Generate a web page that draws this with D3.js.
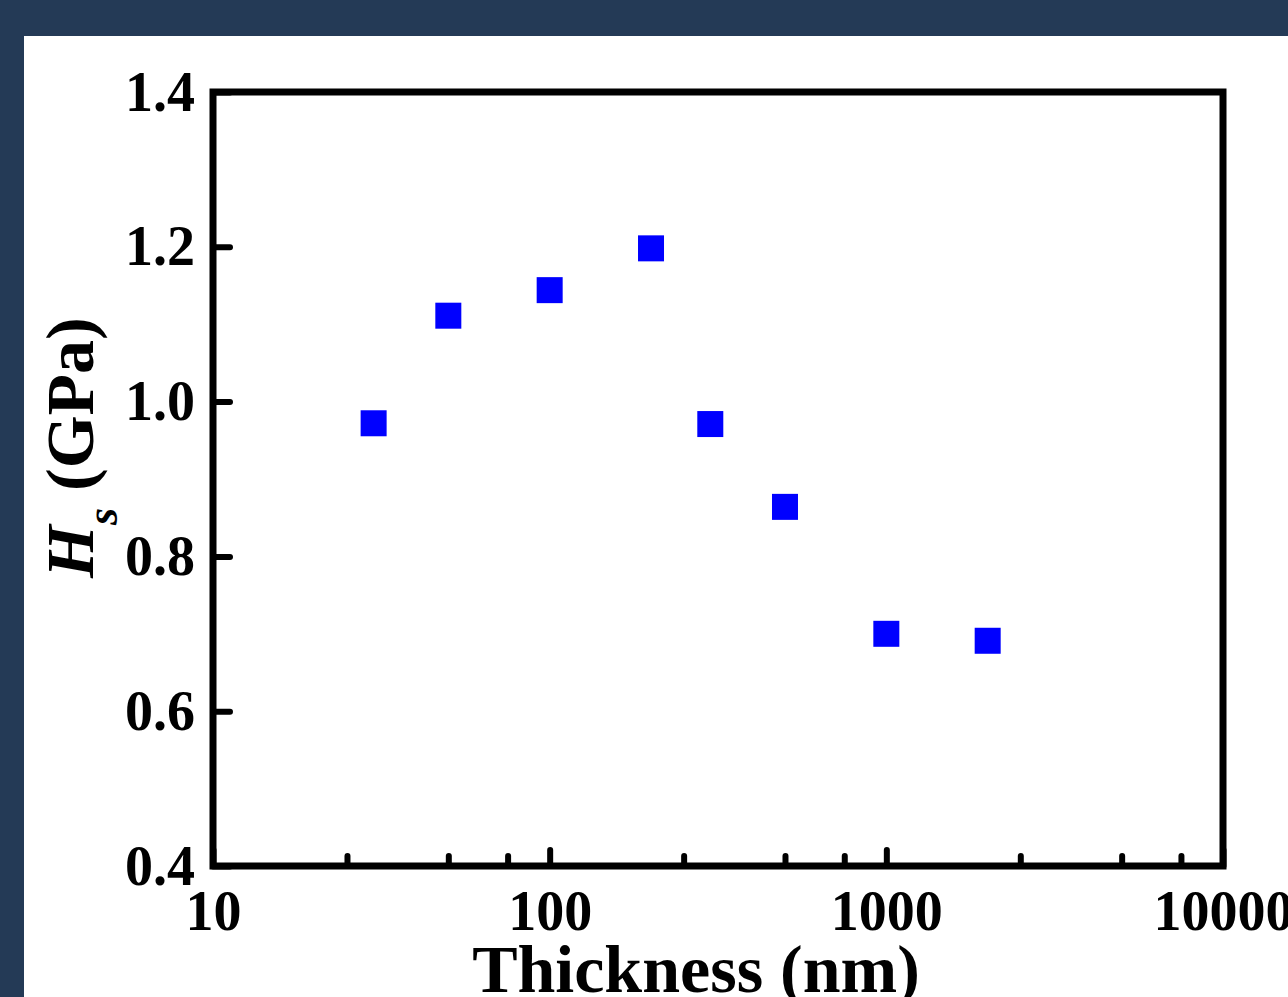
<!DOCTYPE html>
<html>
<head>
<meta charset="utf-8">
<script src="https://cdn.jsdelivr.net/npm/d3@7"></script>
<style>
  html, body { margin: 0; padding: 0; background: #243a56; }
  svg { display: block; }
  text { font-family: "Liberation Serif", "Times New Roman", serif; font-weight: bold; fill: #000; }
</style>
</head>
<body>
<script>
// thickness (nm) and hardness Hs (GPa)
const thickness = [30, 50, 100, 200, 300, 500, 1000, 2000];
const hardness  = [0.972, 1.111, 1.144, 1.198, 0.971, 0.864, 0.700, 0.691];

const xMajor = [10, 100, 1000, 10000];
const xMinor = [25, 50, 75, 250, 500, 750, 2500, 5000, 7500];
const yMajor = [0.4, 0.6, 0.8, 1.0, 1.2, 1.4];

const W = 1288, H = 997;
const mLeft = 213, mRight = 1223, mTop = 92, mBottom = 866;

const svg = d3.select("body")
              .append("svg")
              .attr("width", W)
              .attr("height", H);

// white panel on dark background
svg.append("rect")
   .attr("x", 24).attr("y", 36)
   .attr("width", W - 24).attr("height", H - 36)
   .attr("fill", "#fff");

const x = d3.scaleLog().domain([10, 10000]).range([mLeft, mRight]);
const y = d3.scaleLinear().domain([0.4, 1.4]).range([mBottom, mTop]);

// x axis: major + minor ticks pointing inward
const gx = svg.append("g").attr("transform", `translate(0,${mBottom})`);
gx.call(d3.axisBottom(x).tickValues(xMajor).tickSizeInner(-16).tickSizeOuter(0).tickFormat(d3.format("d")));
gx.select(".domain").remove();
gx.selectAll(".tick line").attr("stroke", "#000").attr("stroke-width", 6).attr("stroke-linecap", "round");
gx.selectAll(".tick text")
  .attr("y", 64).attr("dy", null)
  .attr("font-size", 56);

const gxm = svg.append("g").attr("transform", `translate(0,${mBottom})`);
gxm.call(d3.axisBottom(x).tickValues(xMinor).tickSizeInner(-10).tickSizeOuter(0).tickFormat(""));
gxm.select(".domain").remove();
gxm.selectAll(".tick line").attr("stroke", "#000").attr("stroke-width", 6).attr("stroke-linecap", "round");

// y axis
const gy = svg.append("g").attr("transform", `translate(${mLeft},0)`);
gy.call(d3.axisLeft(y).tickValues(yMajor).tickSizeInner(-17).tickSizeOuter(0).tickFormat(d3.format(".1f")));
gy.select(".domain").remove();
gy.selectAll(".tick line").attr("stroke", "#000").attr("stroke-width", 6).attr("stroke-linecap", "round");
gy.selectAll(".tick text")
  .attr("x", -18).attr("dy", 18)
  .attr("font-size", 56);

// frame
svg.append("rect")
   .attr("x", mLeft).attr("y", mTop)
   .attr("width", mRight - mLeft).attr("height", mBottom - mTop)
   .attr("fill", "none")
   .attr("stroke", "#000")
   .attr("stroke-width", 7);

// data squares
const s = 26;
svg.selectAll("rect.pt")
   .data(thickness)
   .enter()
   .append("rect")
   .attr("class", "pt")
   .attr("x", (d, i) => x(d) - s / 2)
   .attr("y", (d, i) => y(hardness[i]) - s / 2)
   .attr("width", s)
   .attr("height", s)
   .attr("fill", "#0000ff");

// axis titles
svg.append("text")
   .attr("x", 696).attr("y", 992)
   .attr("text-anchor", "middle")
   .attr("font-size", 68)
   .text("Thickness (nm)");

const yl = svg.append("text")
   .attr("transform", "translate(93,578) rotate(-90)")
   .attr("font-size", 68);
yl.append("tspan").attr("font-style", "italic").text("H");
yl.append("tspan").attr("font-style", "italic").attr("font-size", 44).attr("dy", 24).text("s");
yl.append("tspan").attr("dy", -24).text(" (GPa)");
</script>
</body>
</html>
